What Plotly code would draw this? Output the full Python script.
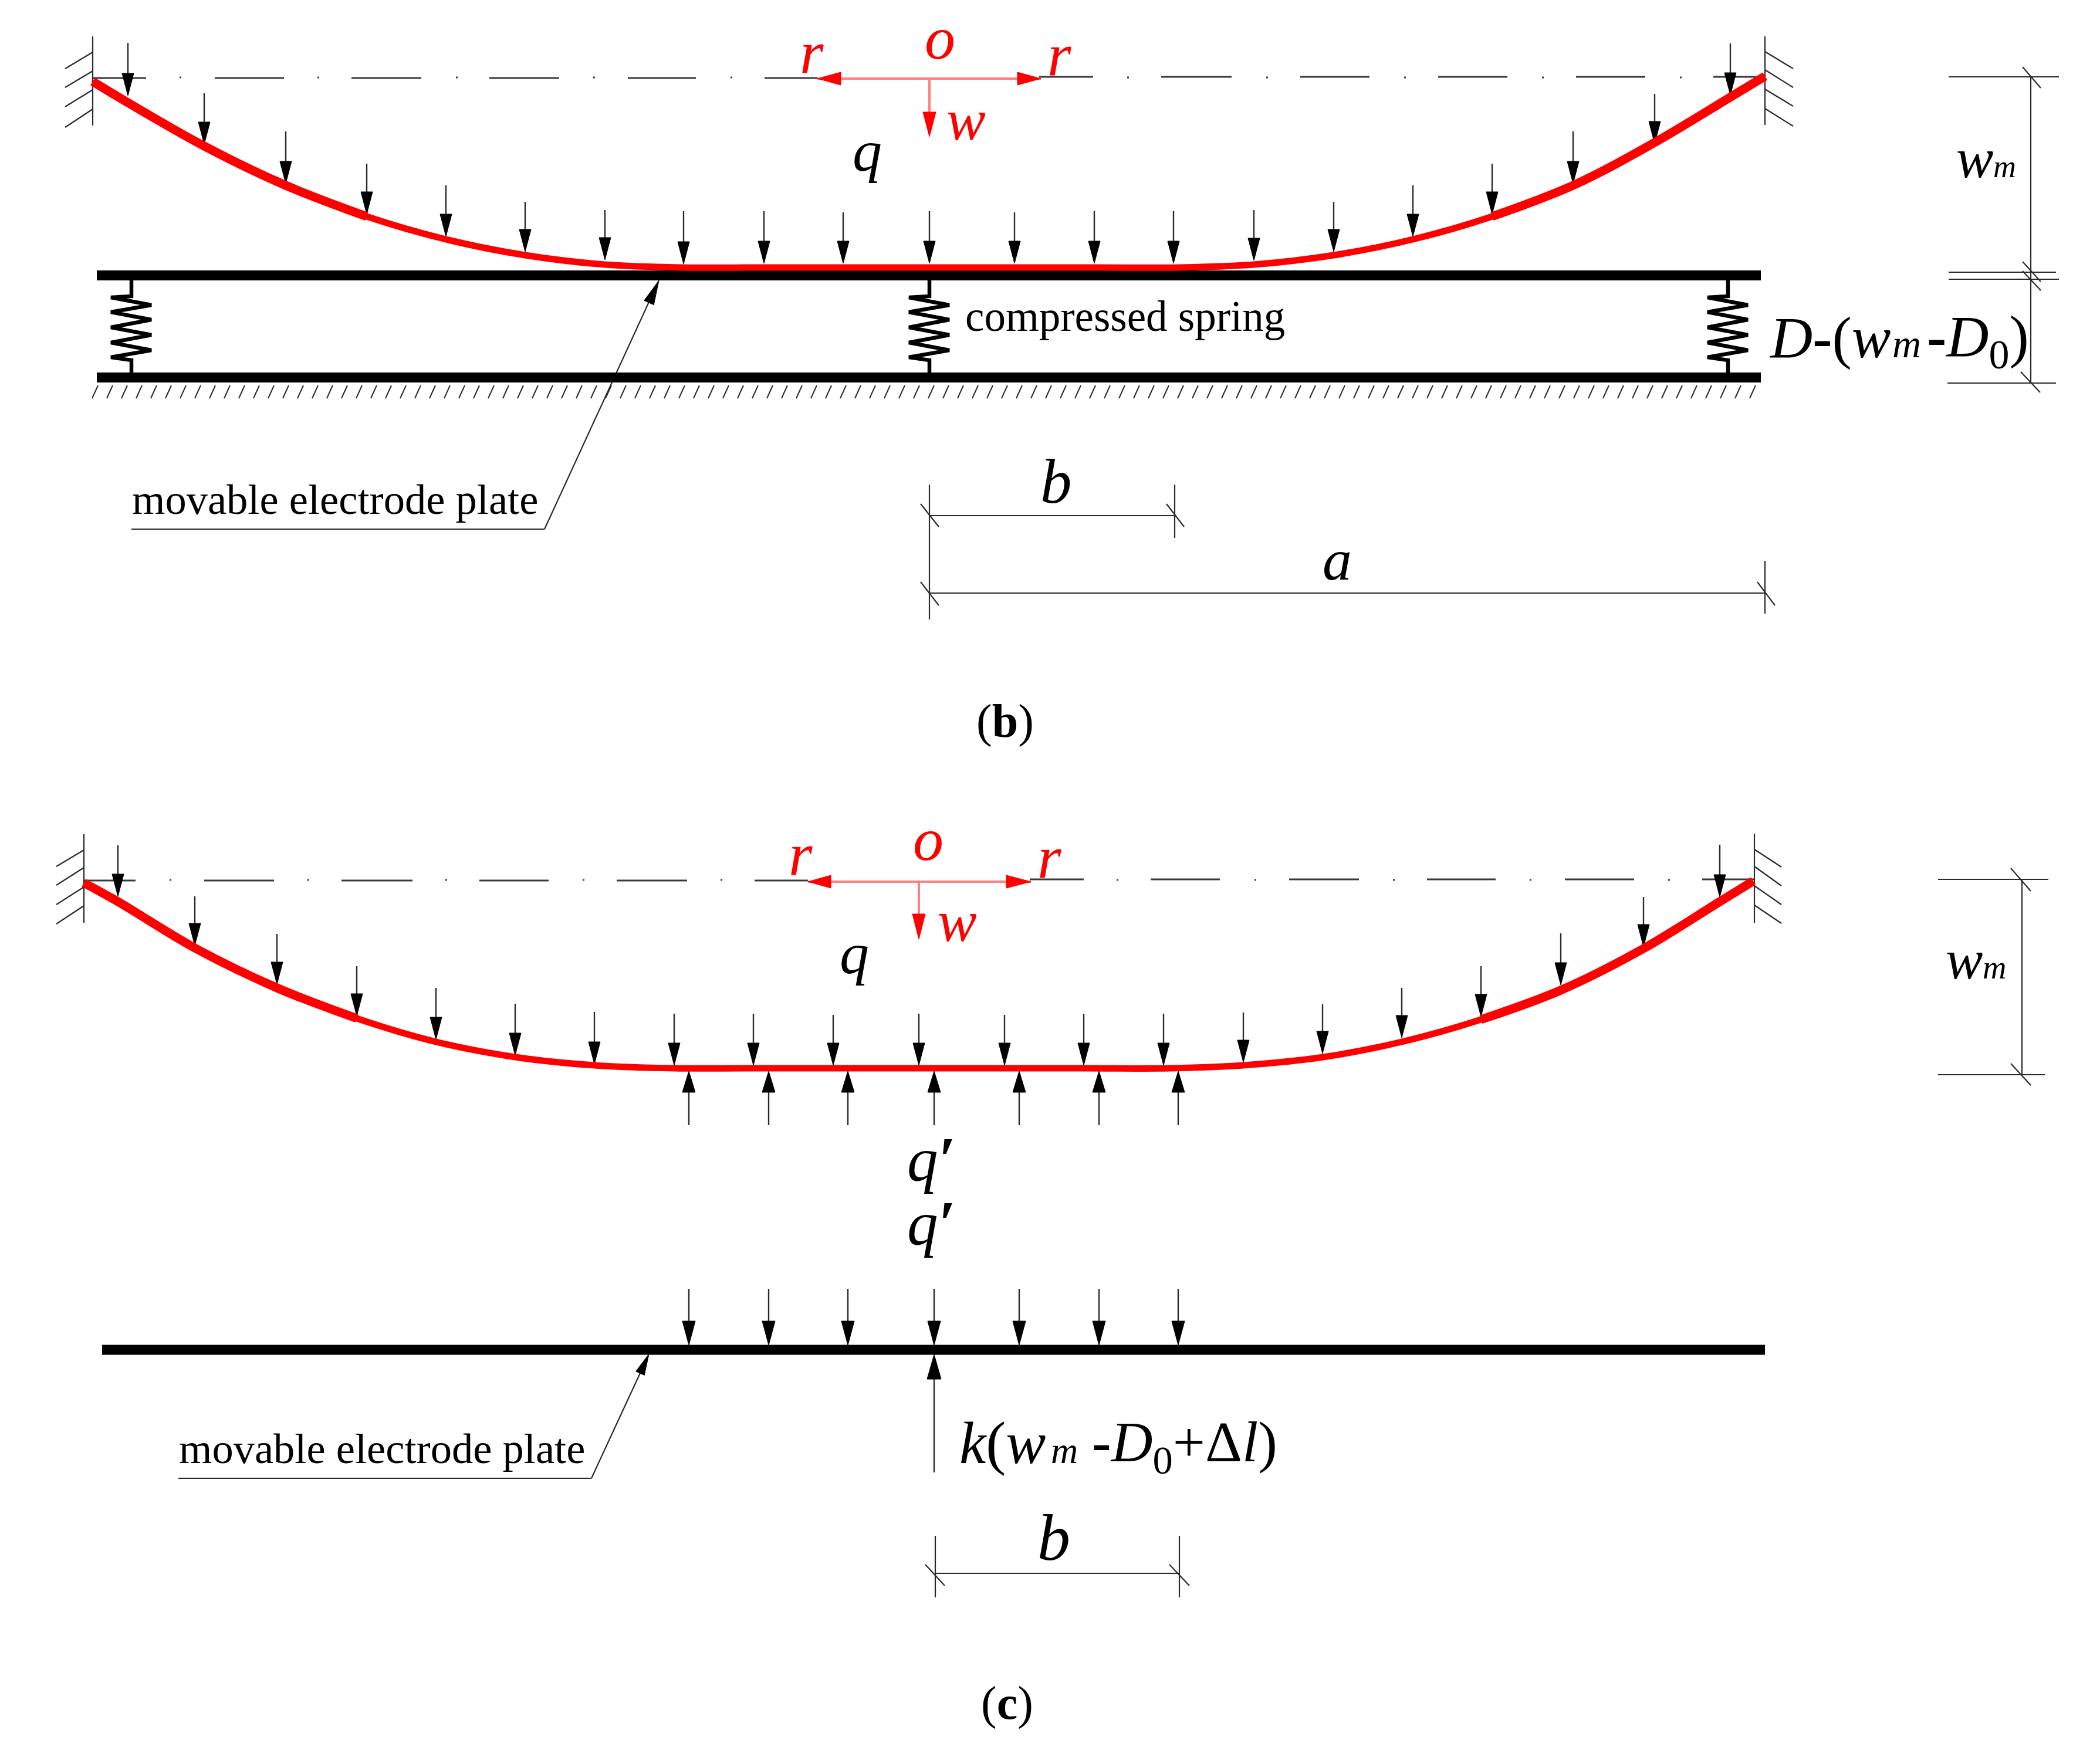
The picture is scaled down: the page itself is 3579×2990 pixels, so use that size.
import math
import plotly.graph_objects as go

W, H = 3579, 2990
RED = "#ff0000"
PINK = "#ff8080"
DARK = "#2a2a2a"
FONT = "Liberation Serif"

# panel (b): membrane and loads
curve_b_x = [158, 218, 348, 487, 625, 760, 895, 1031, 1165, 1300, 1584, 1870, 2009, 2137, 2273, 2408, 2543, 2681, 2820, 2950, 3008]
curve_b_y = [139, 175, 249, 316, 369, 408, 435, 451, 456, 456, 456, 456, 456, 451, 435, 408, 369, 316, 243, 165, 130]
load_b_x = [218, 348, 487, 625, 760, 895, 1031, 1165, 1302, 1437, 1584, 1729, 1865, 2000, 2137, 2273, 2408, 2543, 2681, 2820, 2949]
load_b_top = [73, 159, 224, 279, 316, 344, 358, 360, 360, 362, 360, 362, 360, 360, 358, 344, 316, 279, 224, 160, 74]
load_b_tip = [163, 246, 313, 365, 403, 429, 443, 450, 449, 449, 449, 449, 449, 449, 444, 429, 403, 365, 313, 245, 162]

# panel (c): membrane and loads
curve_c_x = [143, 201, 332, 472, 608, 743, 878, 1013, 1149, 1284, 1584, 1847, 1995, 2119, 2255, 2389, 2524, 2660, 2801, 2931, 2988]
curve_c_y = [1505, 1537, 1616, 1684, 1736, 1776, 1802, 1816, 1821, 1821, 1821, 1821, 1821, 1816, 1802, 1776, 1738, 1688, 1617, 1537, 1502]
load_c_x = [201, 332, 472, 608, 743, 878, 1013, 1149, 1284, 1420, 1566, 1712, 1847, 1983, 2119, 2254, 2389, 2524, 2660, 2801, 2931]
load_c_top = [1441, 1528, 1592, 1647, 1684, 1711, 1725, 1728, 1728, 1730, 1728, 1730, 1728, 1728, 1726, 1712, 1684, 1647, 1591, 1529, 1440]
load_c_tip = [1528, 1612, 1678, 1732, 1772, 1799, 1814, 1816, 1816, 1816, 1816, 1816, 1816, 1816, 1811, 1796, 1769, 1733, 1679, 1614, 1529]
contact_x = [1174, 1310, 1445, 1592, 1737, 1873, 2008]

# centre lines (dash start, dash end, dots)
dash_b_start = [157, 366, 599, 834, 1070, 1303, 1771, 1979, 2216, 2451, 2686, 2920]
dash_b_end = [249, 484, 718, 953, 1186, 1393, 1863, 2099, 2334, 2569, 2804, 3008]
dots_b = [306, 541, 777, 1011, 1245, 1921, 2158, 2393, 2628, 2863]
dash_c_start = [143, 348, 582, 817, 1051, 1286, 1755, 1961, 2197, 2432, 2667, 2901]
dash_c_end = [231, 467, 703, 935, 1171, 1377, 1847, 2079, 2316, 2549, 2785, 2990]
dots_c = [289, 524, 759, 993, 1228, 1903, 2138, 2374, 2607, 2843]

# springs
spring_x = [224, 1584, 2945]
spring_dx = [0, 0, -35, 34, -35, 34, -35, 34, -35, 34, -35, 0, 0]
spring_y = [478, 505, 507, 520, 532, 545, 558, 571, 584, 597, 609, 614, 635]

# thin lines: x0, y0, x1, y1
thin_lines = [
    # walls (b)
    (158, 62, 158, 214), (158, 89, 111, 117), (158, 121, 111, 149), (158, 153, 111, 182), (158, 186, 111, 217),
    (3008, 62, 3008, 213), (3008, 88, 3056, 117), (3008, 119, 3056, 149), (3008, 152, 3056, 181), (3008, 185, 3056, 215),
    # leader (b)
    (224, 902, 928, 902), (928, 902, 1110, 506),
    # right dims (b)
    (3321, 131, 3509, 131), (3321, 464, 3504, 464), (3321, 476, 3509, 476), (3319, 653, 3504, 653),
    (3461, 131, 3461, 653), (3447, 114, 3478, 150), (3447, 446, 3478, 480), (3447, 462, 3478, 495), (3444, 634, 3477, 669),
    # b / a dims
    (1584, 826, 1584, 1056), (2002, 826, 2002, 917), (1584, 879, 2002, 879), (1584, 1011, 3008, 1011), (3008, 956, 3008, 1046),
    (1569, 859, 1600, 898), (1988, 859, 2018, 898), (1569, 992, 1600, 1032), (2995, 992, 3025, 1032),
    # walls (c)
    (143, 1422, 143, 1573), (143, 1449, 96, 1477), (143, 1479, 96, 1509), (143, 1512, 96, 1542), (143, 1544, 96, 1575),
    (2990, 1421, 2990, 1573), (2990, 1448, 3036, 1478), (2990, 1477, 3036, 1510), (2990, 1510, 3036, 1542), (2990, 1543, 3036, 1574),
    # leader (c)
    (304, 2520, 1008, 2520), (1008, 2520, 1095, 2332),
    # right dims (c)
    (3303, 1499, 3491, 1499), (3303, 1832, 3485, 1832), (3446, 1499, 3446, 1832), (3427, 1480, 3461, 1519), (3427, 1813, 3461, 1850),
    # b dim (c)
    (1594, 2618, 1594, 2723), (2010, 2618, 2010, 2723), (1594, 2682, 2010, 2682), (1577, 2667, 1610, 2703), (1993, 2667, 2027, 2703),
]

# thick plates: x0, x1, y
plates = [(165, 3001, 469.5), (165, 3001, 643.5), (174, 3008, 2301)]

# hatching under bottom plate
hatch_x = list(range(157, 2985, 25))

# labels: x, baseline y, html text, size, colour
labels = [
    (1452, 292, "<i>q</i>", 100, "black"),
    (1575, 101, "<i>o</i>", 104, RED),
    (1362, 126, "<i>r</i>", 104, RED),
    (1784, 130, "<i>r</i>", 104, RED),
    (1612, 239, "<i>w</i>", 100, RED),
    (1644, 565, "compressed spring", 73, "black"),
    (224, 877, "movable electrode plate", 72.5, "black"),
    (3333, 303, "<i>w</i>", 95, "black"),
    (3396, 303, "<i>m</i>", 54, "black"),
    (3014, 610, "<i>D</i><b>-</b>(<i>w</i>", 100, "black"),
    (3224, 610, "<i>m</i>", 68, "black"),
    (3283, 622, "<b>-</b><i>D</i><sub>0</sub>)", 100, "black"),
    (1772, 858, "<i>b</i>", 107, "black"),
    (2253, 989, "<i>a</i>", 100, "black"),
    (1663, 1258, "(<b>b</b>)", 80, "black"),
    (1343, 1493, "<i>r</i>", 104, RED),
    (1767, 1498, "<i>r</i>", 104, RED),
    (1555, 1467, "<i>o</i>", 104, RED),
    (1597, 1605, "<i>w</i>", 100, RED),
    (1430, 1660, "<i>q</i>", 100, "black"),
    (3315, 1669, "<i>w</i>", 95, "black"),
    (3378, 1669, "<i>m</i>", 56, "black"),
    (1545, 2013, "<i>q</i><b><i>′</i></b>", 105, "black"),
    (1545, 2122, "<i>q</i><b><i>′</i></b>", 105, "black"),
    (304, 2495, "movable electrode plate", 72.5, "black"),
    (1634, 2495, "<i>k</i>(<i>w</i>", 102, "black"),
    (1790, 2495, "<i>m</i>", 64, "black"),
    (1860, 2507, "<b>-</b><i>D</i><sub>0</sub>+Δ<i>l</i>)", 98, "black"),
    (1767, 2660, "<i>b</i>", 112, "black"),
    (1671, 2932, "(<b>c</b>)", 80, "black"),
]


def seg_trace(segs, color, width):
    xs, ys = [], []
    for x0, y0, x1, y1 in segs:
        xs += [x0, x1, None]
        ys += [y0, y1, None]
    return go.Scatter(x=xs, y=ys, mode="lines", line=dict(color=color, width=width), hoverinfo="skip")


def head_trace(heads, color):
    # heads: tip x, tip y, base x, base y, half width
    xs, ys = [], []
    for tx, ty, bx, by, hw in heads:
        d = math.hypot(tx - bx, ty - by)
        nx, ny = -(ty - by) / d * hw, (tx - bx) / d * hw
        xs += [tx, bx + nx, bx - nx, tx, None]
        ys += [ty, by + ny, by - ny, ty, None]
    return go.Scatter(x=xs, y=ys, mode="lines", fill="toself", fillcolor=color,
                      line=dict(color=color, width=1), hoverinfo="skip")


fig = go.Figure()

# centre lines
centre = []
for a, b in zip(dash_b_start, dash_b_end):
    y = 133 if a < 1584 else 131
    centre.append((a, y, b, y))
for d in dots_b:
    centre.append((d, 132, d + 3, 132))
for a, b in zip(dash_c_start, dash_c_end):
    y = 1501 if a < 1584 else 1499
    centre.append((a, y, b, y))
for d in dots_c:
    centre.append((d, 1500, d + 3, 1500))
fig.add_trace(seg_trace(centre, "#3a3a3a", 3))

fig.add_trace(seg_trace(thin_lines, DARK, 2.2))
fig.add_trace(seg_trace([(x + 10, 657, x, 679) for x in hatch_x], DARK, 2))

# plates
fig.add_trace(seg_trace([(a, y, b, y) for a, b, y in plates], "black", 17))

# springs
for sx in spring_x:
    fig.add_trace(go.Scatter(x=[sx + d for d in spring_dx], y=spring_y, mode="lines",
                             line=dict(color="black", width=6.5), hoverinfo="skip"))

# load arrows
stems = []
heads = []
for x, top, tip in zip(load_b_x, load_b_top, load_b_tip):
    stems.append((x, top, x, tip - 20))
    heads.append((x, tip, x, tip - 38, 10))
for x, top, tip in zip(load_c_x, load_c_top, load_c_tip):
    stems.append((x, top, x, tip - 20))
    heads.append((x, tip, x, tip - 38, 10))
for x in contact_x:
    stems.append((x, 1918, x, 1850))
    heads.append((x, 1826, x, 1862, 11))
    stems.append((x, 2197, x, 2270))
    heads.append((x, 2293, x, 2252, 11))
stems.append((1592, 2510, 1592, 2340))
heads.append((1592, 2309, 1592, 2351, 12))
heads.append((1123, 478, 1106, 516, 9))
heads.append((1106, 2308, 1091, 2341, 8))
fig.add_trace(seg_trace(stems, DARK, 2.4))
fig.add_trace(head_trace(heads, "black"))

# curves, a bit heavier towards the walls
for cx, cy in [(curve_b_x, curve_b_y), (curve_c_x, curve_c_y)]:
    spline = dict(color=RED, width=11, shape="spline", smoothing=1)
    fig.add_trace(go.Scatter(x=cx, y=cy, mode="lines", line=spline, hoverinfo="skip"))
    heavy = dict(spline, width=15)
    fig.add_trace(go.Scatter(x=cx[:5], y=cy[:5], mode="lines", line=heavy, hoverinfo="skip"))
    fig.add_trace(go.Scatter(x=cx[-5:], y=cy[-5:], mode="lines", line=heavy, hoverinfo="skip"))

# red axes
fig.add_trace(seg_trace([(1393, 134, 1774, 134), (1584, 134, 1584, 200), (1377, 1503, 1757, 1503), (1566, 1503, 1566, 1570)], PINK, 4))
fig.add_trace(head_trace([
    (1393, 134, 1433, 134, 11), (1774, 134, 1734, 134, 11), (1584, 233, 1584, 191, 11),
    (1377, 1503, 1416, 1503, 11), (1757, 1503, 1715, 1503, 11), (1566, 1601, 1566, 1558, 11),
], RED))

for x, base, text, size, color in labels:
    fig.add_annotation(x=x, y=base + 0.216 * size, text=text, showarrow=False, xanchor="left", yanchor="bottom",
                       borderpad=0, font=dict(family=FONT, size=size, color=color))

fig.update_layout(width=W, height=H, margin=dict(l=0, r=0, t=0, b=0), paper_bgcolor="white", plot_bgcolor="white",
                  showlegend=False,
                  xaxis=dict(range=[0, W], visible=False, fixedrange=True),
                  yaxis=dict(range=[H, 0], visible=False, fixedrange=True))

fig.write_html("out.html", post_script="document.body.style.margin='0';", config={"displayModeBar": False})
